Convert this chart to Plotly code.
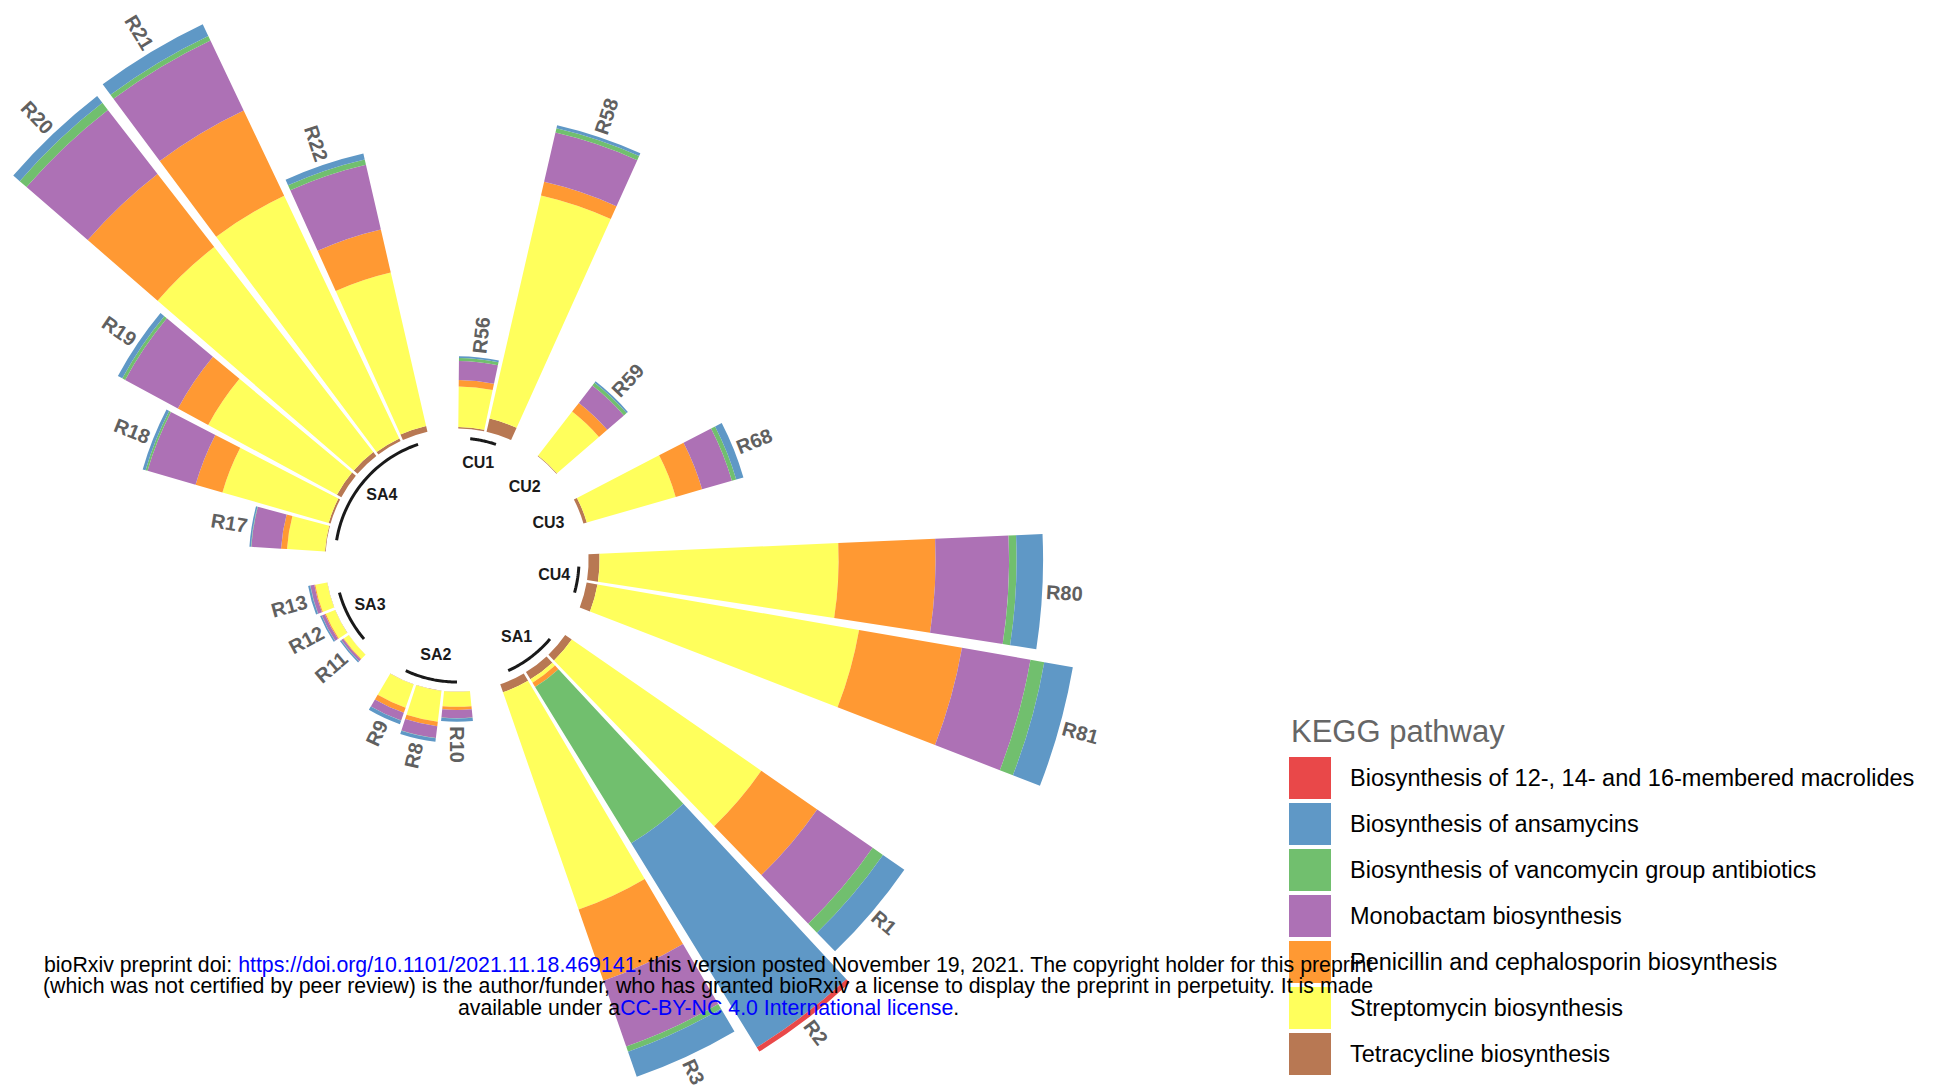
import math
import plotly.graph_objects as go

# ---------------------------------------------------------------- data
samples = ["R56", "R58", "R59", "R68", "R80", "R81", "R1", "R2", "R3",
           "R10", "R8", "R9", "R11", "R12", "R13",
           "R17", "R18", "R19", "R20", "R21", "R22"]
groups = ["CU1", "CU1", "CU2", "CU3", "CU4", "CU4", "SA1", "SA1", "SA1",
          "SA2", "SA2", "SA2", "SA3", "SA3", "SA3",
          "SA4", "SA4", "SA4", "SA4", "SA4", "SA4"]
group_order = ["CU1", "CU2", "CU3", "CU4", "SA1", "SA2", "SA3", "SA4"]

# relative abundance per KEGG pathway (same order as samples)
macrolides = [0, 0, 0, 0, 0, 0, 0, 1.0, 0, 0, 0, 0, 0, 0, 0, 0, 0, 0, 0, 0, 0]
ansamycins = [0.35, 0.6, 0.35, 1.5, 5.3, 5.8, 5.2, 47.9, 5.3, 0.65, 0.7, 0.75,
              0.3, 0.35, 0.4, 0.3, 0.6, 1.0, 1.7, 2.6, 1.2]
vancomycin = [0.6, 0.9, 0.7, 0.9, 1.5, 2.8, 2.5, 36.7, 1.1, 0.05, 0.05, 0.05,
              0.03, 0.03, 0.05, 0.08, 0.4, 0.65, 1.8, 1.0, 1.1]
monobactam = [3.8, 10.1, 4.4, 6.2, 14.7, 13.9, 13.5, 0, 13.9, 1.65, 2.4, 1.6,
              0.45, 0.65, 0.8, 5.95, 10.0, 12.0, 16.2, 15.5, 13.3]
penicillin = [1.3, 2.8, 2.2, 5.5, 19.4, 20.9, 13.6, 1.0, 15.1, 0.65, 0.9, 1.1,
              0.15, 0.2, 0.2, 1.2, 5.6, 6.9, 18.5, 18.9, 8.8]
streptomycin = [8.1, 45.8, 11.1, 18.5, 47.8, 53.1, 46.1, 0.8, 46.0, 3.0, 6.2, 4.9,
                1.2, 2.0, 2.4, 7.6, 22.1, 29.3, 51.9, 53.7, 31.5]
tetracycline = [0.3, 2.7, 0.15, 0.7, 2.2, 2.2, 1.6, 1.7, 1.7, 0.05, 0.05, 0.05,
                0.03, 0.05, 0.05, 0.15, 0.4, 1.0, 1.0, 0.6, 1.2]

pathway_names = [
    "Biosynthesis of 12-, 14- and 16-membered macrolides",
    "Biosynthesis of ansamycins",
    "Biosynthesis of vancomycin group antibiotics",
    "Monobactam biosynthesis",
    "Penicillin and cephalosporin biosynthesis",
    "Streptomycin biosynthesis",
    "Tetracycline biosynthesis",
]
pathway_values = [macrolides, ansamycins, vancomycin, monobactam,
                  penicillin, streptomycin, tetracycline]
pathway_colors = ["#E94849", "#5F98C6", "#71BF6E", "#AD71B5",
                  "#FF9933", "#FFFF5C", "#B87853"]

# ---------------------------------------------------------------- geometry
W, H = 1933, 1090
CX, CY = 457, 560          # centre of the circular plot (px from top-left)
R_FRAME = 457              # radius of the polar frame (px)
HOLE_PX = 131.6            # radius of the empty centre (px)
PX_PER_UNIT = 5.0
R_MAX = (R_FRAME - HOLE_PX) / PX_PER_UNIT

# one empty slot after every group
slot_map = {}
slot = 0
for g in group_order:
    for s, sg in zip(samples, groups):
        if sg == g:
            slot += 1
            slot_map[s] = slot
    slot += 1
N_SLOTS = slot
STEP = 360.0 / N_SLOTS
theta = [(slot_map[s] - 0.5) * STEP for s in samples]
BAR_WIDTH = 0.91 * STEP

fig = go.Figure()

# stacked from the centre outwards: tetracycline first, macrolides last
for name, vals, col in reversed(list(zip(pathway_names, pathway_values, pathway_colors))):
    fig.add_trace(go.Barpolar(
        r=vals, theta=theta, width=[BAR_WIDTH] * len(samples),
        name=name, marker=dict(color=col, line=dict(width=0)),
        subplot="polar", showlegend=False,
        hovertemplate="%{customdata}<br>" + name + ": %{r}<extra></extra>",
        customdata=samples,
    ))

# group arcs and group names in the empty centre
ARC_R, GLABEL_R = 122, 98.5
for g in group_order:
    th = [t for t, sg in zip(theta, groups) if sg == g]
    t0, t1 = min(th), max(th)
    if t1 > t0:
        n = 30
        arc_t = [t0 + (t1 - t0) * k / n for k in range(n + 1)]
        fig.add_trace(go.Scatterpolar(
            r=[ARC_R] * len(arc_t), theta=arc_t, mode="lines",
            line=dict(color="#1a1a1a", width=3), subplot="polar2",
            showlegend=False, hoverinfo="skip",
        ))
    fig.add_trace(go.Scatterpolar(
        r=[GLABEL_R], theta=[(t0 + t1) / 2], mode="text", text=[g],
        textposition="middle center",
        textfont=dict(size=16, color="#1a1a1a", family="Liberation Sans, Arial", weight="bold"),
        subplot="polar2", showlegend=False, hoverinfo="skip",
    ))

annotations = []

# sample labels just beyond the end of each bar, rotated along the radius
LFS = 20
for i, s in enumerate(samples):
    total = sum(v[i] for v in pathway_values)
    r_end = HOLE_PX + total * PX_PER_UNIT
    w = (0.722 + 0.556 * (len(s) - 1)) * LFS
    rc = r_end + 4 + w / 2
    t = theta[i]
    x = CX + rc * math.sin(math.radians(t))
    y = CY - rc * math.cos(math.radians(t))
    ang = t - 90 if t <= 180 else t - 270
    annotations.append(dict(
        x=x / W, y=1 - y / H, xref="paper", yref="paper", text=s,
        showarrow=False, textangle=ang, xanchor="center", yanchor="middle",
        font=dict(size=LFS, color="#606060", family="Liberation Sans, Arial", weight="bold"),
    ))

# legend drawn as large square keys
shapes = []
LEG_X0, KEY = 1289, 42
LEG_TOP, PITCH = 757, 46
annotations.append(dict(
    x=LEG_X0 / W, y=1 - 731 / H, xref="paper", yref="paper", text="KEGG pathway",
    showarrow=False, xanchor="left", yanchor="middle",
    font=dict(size=31, color="#666666", family="Liberation Sans, Arial"),
))
for k, (name, col) in enumerate(zip(pathway_names, pathway_colors)):
    top = LEG_TOP + k * PITCH
    shapes.append(dict(
        type="rect", xref="paper", yref="paper",
        x0=LEG_X0 / W, x1=(LEG_X0 + KEY) / W,
        y0=1 - (top + KEY) / H, y1=1 - top / H,
        fillcolor=col, line=dict(width=0), layer="below",
    ))
    annotations.append(dict(
        x=1348 / W, y=1 - (top + KEY / 2) / H, xref="paper", yref="paper",
        text=name, showarrow=False, xanchor="left", yanchor="middle",
        font=dict(size=23.5, color="#000000", family="Liberation Sans, Arial"),
    ))

# preprint notice
BLUE = "#0000FF"
footer_lines = [
    "bioRxiv preprint doi: <span style='color:%s'>https://doi.org/10.1101/2021.11.18.469141</span>; "
    "this version posted November 19, 2021. The copyright holder for this preprint" % BLUE,
    "(which was not certified by peer review) is the author/funder, who has granted bioRxiv a license "
    "to display the preprint in perpetuity. It is made",
    "available under a<span style='color:%s'>CC-BY-NC 4.0 International license</span>." % BLUE,
]
for j, line in enumerate(footer_lines):
    yc = 964.5 + j * 21.7
    annotations.append(dict(
        x=708 / W, y=1 - yc / H, xref="paper", yref="paper", text=line,
        showarrow=False, xanchor="center", yanchor="middle",
        font=dict(size=21.3, color="#000000", family="Liberation Sans, Arial"),
    ))

dom_x = [(CX - R_FRAME) / W, (CX + R_FRAME) / W]
dom_y = [(H - CY - R_FRAME) / H, (H - CY + R_FRAME) / H]
hidden_radial = dict(visible=False, showgrid=False, showline=False, showticklabels=False, ticks="")
hidden_angular = dict(visible=False, showgrid=False, showline=False, showticklabels=False, ticks="",
                      rotation=90, direction="clockwise", thetaunit="degrees", type="linear")

fig.update_layout(
    template="none",
    width=W, height=H,
    margin=dict(l=0, r=0, t=0, b=0),
    paper_bgcolor="white", plot_bgcolor="white",
    font=dict(family="Liberation Sans, Arial, sans-serif"),
    showlegend=False,
    polar=dict(
        domain=dict(x=dom_x, y=dom_y), hole=HOLE_PX / R_FRAME, bgcolor="rgba(0,0,0,0)",
        barmode="stack", bargap=0,
        radialaxis=dict(range=[0, R_MAX], **hidden_radial),
        angularaxis=hidden_angular,
    ),
    polar2=dict(
        domain=dict(x=dom_x, y=dom_y), bgcolor="rgba(0,0,0,0)",
        radialaxis=dict(range=[0, R_FRAME], **hidden_radial),
        angularaxis=hidden_angular,
    ),
    annotations=annotations,
    shapes=shapes,
)

# long bars run past the frame radius: let them draw outside the polar clip
unclip_js = """
var gd = document.getElementById('{plot_id}');
function unclipPolar() {
  gd.querySelectorAll('.polarlayer [clip-path]').forEach(function(el) {
    el.removeAttribute('clip-path');
  });
}
unclipPolar();
gd.on('plotly_afterplot', unclipPolar);
"""

fig.write_html("out.html", post_script=unclip_js)
